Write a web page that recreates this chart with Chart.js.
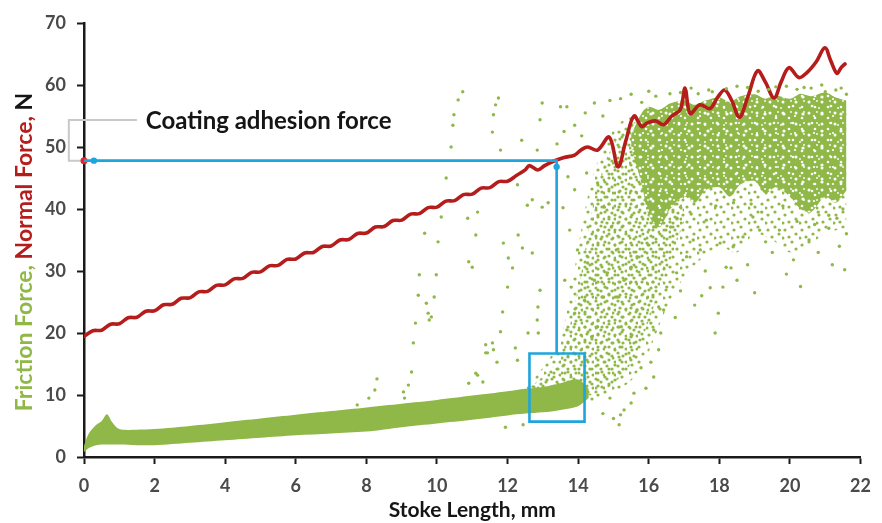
<!DOCTYPE html>
<html><head><meta charset="utf-8">
<script src="https://cdn.jsdelivr.net/npm/chart.js@4.4.1/dist/chart.umd.min.js"></script>
<style>html,body{margin:0;padding:0;background:#fff}</style>
</head><body>
<canvas id="c" width="882" height="523"></canvas>
<script>
// ---------- data ----------
const xTickStep = 2, yTickStep = 10;
const xMin = 0, xMax = 22, yMin = 0, yMax = 70;

// Normal force (red line)
const normalX = [0,0.25,0.5,0.75,1,1.25,1.5,1.75,2,2.25,2.5,2.75,3,3.25,3.5,3.75,4,4.25,4.5,4.75,5,5.25,5.5,5.75,6,6.25,6.5,6.75,7,7.25,7.5,7.75,8,8.25,8.5,8.75,9,9.25,9.5,9.75,10,10.25,10.5,10.75,11,11.25,11.5,11.75,12,12.25,
  12.5,12.62,12.85,13.05,13.3,13.6,13.9,14.1,14.27,14.55,14.88,15.13,15.35,15.58,15.8,15.96,16.2,16.42,16.65,16.89,17.03,17.17,17.45,17.73,17.95,18.15,18.35,18.57,18.8,19.08,19.3,19.55,19.75,19.97,20.25,20.48,20.75,20.99,21.15,21.33,21.45,21.56];
const normalY = [19.45,20.37,20.45,21.42,21.49,22.46,22.54,23.51,23.58,24.55,24.63,25.6,25.67,26.64,26.72,27.69,27.76,28.73,28.81,29.78,29.85,30.82,30.9,31.87,31.94,32.91,32.99,33.96,34.03,35.0,35.08,36.05,36.12,37.09,37.17,38.14,38.21,39.18,39.26,40.23,40.3,41.27,41.35,42.32,42.39,43.36,43.44,44.41,44.48,45.4,
  46.3,47.0,46.3,47.0,47.7,48.3,48.7,49.6,50.0,49.5,51.6,46.8,51.0,55.0,53.3,53.9,54.2,53.6,55.0,56.0,59.5,55.4,56.8,56.2,58.0,59.2,57.5,54.8,58.0,62.3,60.5,57.9,60.5,62.8,61.2,62.0,63.8,66.0,64.0,61.9,62.8,63.4];

// Friction force: dense low band (envelope of the point cloud)
const bandX    = [0,0.1,0.2,0.35,0.5,0.65,0.8,1.0,1.5,2,3,4,5,6,7,8,9,10,11,12,12.5,13,13.5,14,14.3];
const bandHigh = [1.8,3.4,4.3,5.2,5.8,6.9,5.6,4.5,4.4,4.5,5.0,5.6,6.2,6.8,7.4,8.0,8.6,9.2,9.9,10.6,11.0,11.3,11.9,12.5,11.0];
const bandLow  = [0.8,1.3,1.6,1.9,2.0,2.0,2.0,2.0,1.9,1.9,2.3,2.7,3.1,3.5,3.8,4.1,4.8,5.4,6.0,6.7,7.0,7.2,7.6,8.2,9.5];

// Friction force: sparse-to-medium spread region
const fanX    = [12.4,12.8,13.2,13.5,13.8,14.1,14.4,14.8,15.2,15.6,16.0,16.5,17.0,17.5,18.0,18.5,19.0,19.5,20.0,20.5,21.0,21.6];
const fanHigh = [10.5,13,16,19,27,37,45,51,54,55,55.5,56,56.5,57,57,57.5,57.5,57.5,57.5,57.5,58,57];
const fanLow  = [9,9.5,9.5,10,10,9.5,9,10,11,13,17,24,29,32,34,33,36,35,33,34,36,37];
// Friction force: denser core of the rising fan
const fan2X    = [12.4,12.8,13.2,13.5,13.8,14.1,14.4,14.8,15.2,15.6,16.0,16.5,17.0];
const fan2High = [10,12,14,16,22,30,40,48,52,54,55,56,56];
const fan2Low  = [9,9.5,9.5,10,10,10,10,11,13,16,22,30,38];

// Friction force: dense upper cloud
const cloudX    = [15.5,15.8,16.0,16.3,16.6,17.0,17.3,17.6,18.0,18.3,18.6,19.0,19.3,19.6,20.0,20.3,20.6,21.0,21.3,21.6];
const cloudHigh = [52,55.5,56.5,56,57,57.5,56.8,57.5,58,57.3,58.2,58.5,57.8,58.3,57.8,58.6,58.2,58.8,58,57.5];
const cloudLow  = [50,44,39,37,40,42,41,43,43.5,42,44,44.5,42.5,43.5,42,40,39.5,42,41,43];

// Friction force: scattered individual points
const scatterX = [10.73,10.6,11.74,11.66,10.48,11.6,10.45,11.57,10.4,11.8,12.98,12.92,12.4,12.84,13.5,10.26,12.28,12.56,12.7,12.98,13.15,10.12,10.87,11.15,9.65,10.03,11.1,11.88,12.3,12.42,12.02,12.7,9.5,9.98,10.9,11.0,12.14,12.0,12.92,9.47,9.92,9.7,11.86,12.86,9.39,9.84,11.8,12.84,12.87,9.33,11.38,11.6,9.28,11.1,11.38,
  8.3,8.24,8.07,7.74,9.08,9.05,9.19,9.75,9.78,10.9,11.15,11.3,11.43,11.57,11.7,12.22,12.28,11.94,12.44,12.58,
  17.97,17.88,15.16,15.2,16.28,16.06,15.78,16.14,15.92,15.58,15.5,15.3,16.42,16.28,16.14,
  21.55,18.19,18.1,18.33,18.39,18.02,17.74,18.67,19.31,20.54,21.1,20.8,21.33,19.7,19.14,18.95,17.63,17.26,17.46,17.07,16.79,16.51,16.34,16.06,15.67,15.22,15.5,13.8,13.62,13.9,13.68,14.38,14.55,14.18,14.46,14.27,13.98,13.76,13.57,13.9,13.71,14.24,14.55,14.74,14.94,15.08,14.83,14.69,15.1,15.3,15.5,15.67,15.95,16.14,16.34,16.62,16.9,
  13.68,14.46,14.9,14.2,13.9,13.6,14.1,13.4,14.7,15.2,15.5,16.0,15.8,
  17.2,18.5,19.6,20.6,21.3,16.6,17.8,19.1,20.2,21.0,
  14.7,14.9,15.0,
  17.5,18.8,19.5,20.1,20.8,21.4,21.2,19.9,18.5,17.3,16.9,19.0,20.3,16.75,17.6,
  16.2,16.9,17.4,18.2,18.8,19.4,19.9,20.4,20.9,21.45,21.6,17.7,
  16.8,17.2,17.9,18.4,18.9,19.2,19.8,20.2,20.7,21.1,21.5,21.6];
const scatterY = [58.9,57.6,57.9,56.8,55.2,55.2,53.5,52.4,50.0,49.5,57.1,54.4,51.1,49.5,56.5,45.0,43.9,40.6,41.5,40.3,41.0,38.7,38.5,39.5,36.1,34.7,35.8,34.5,35.8,33.7,32.1,32.9,29.4,29.4,31.5,30.6,30.5,27.4,26.9,26.1,25.8,24.8,23.4,24.2,21.6,22.6,20.2,22.1,20.0,18.4,18.1,17.3,13.7,13.5,16.8,
  12.6,10.8,9.5,8.4,9.5,10.5,11.6,23.2,22.1,11.9,13.2,12.1,16.8,18.4,15.3,17.6,15.6,4.8,5.2,20.0,
  23.2,20.0,5.2,6.8,17.3,15.3,14.4,12.9,11.1,10.3,8.7,7.6,23.7,24.2,20.5,
  30.2,30.6,27.4,30.5,33.9,34.5,27.3,35.5,34.7,35,36.9,39.5,38.5,36.6,36.6,38.7,38.2,35,33.4,32.3,29.7,27.4,20,21.6,23.7,21,19.4,27.4,28.5,23.2,20.5,19.4,21,25.3,28.5,31.3,33.4,36.6,40.2,43.1,45.2,45.8,44.2,40.3,37.1,33.4,29.7,25.8,25.8,28.5,30.6,32.3,34.5,37.1,39.8,37.1,40.3,
  56.5,57.1,57.5,55.5,53.5,52.5,51.8,50.5,55,57.8,58.5,59,57.2,
  59.5,59.8,59.7,59.5,59.2,58.6,58.9,59.0,59.3,58.9,
  7,9.5,6.2,
  26,31,33,31.8,33,34,31,29.5,28.5,24.5,26.8,26.5,27.5,22.5,30.0,
  58.2,58.8,58.6,59.4,59.6,59.3,59.8,59.6,60.0,59.5,58.5,59.2,
  38.5,39.2,40.5,41,40.8,39.5,40.5,38,37.5,39,40,36];

// Blue guide (coating adhesion level and region box)
const guideX = [0,13.39,13.39,14.18,14.18,12.62,12.62,13.39];
const guideY = [47.8,47.8,16.7,16.7,5.7,5.7,16.7,16.7];
const guideMarkX = [0.28,13.39], guideMarkY = [47.8,46.8];
const redMarkX = [0], redMarkY = [47.8];
// Grey bracket for the label
const bracketX = [1.5,-0.43,-0.43,0];
const bracketY = [54.35,54.35,47.8,47.8];
const labelText = 'Coating adhesion force';
const labelX = 1.75, labelY = 54.35;
const xTitle = 'Stoke Length, mm';
const yTitleParts = ['Friction Force, ', 'Normal Force, ', 'N'];

// ---------- styles ----------
const GREEN = '#8fb848', RED = '#b51c1c', BLUE = '#1ea5dc', GREY = '#c9c9c9', AX = '#1a1a1a';
const FONT = 'Lato, "Open Sans", sans-serif';

function tile(w, h, dots, color) {
  const c = document.createElement('canvas'); c.width = w; c.height = h;
  const g = c.getContext('2d');
  g.fillStyle = color;
  dots.forEach(d => { g.beginPath(); g.arc(d[0], d[1], d[2], 0, Math.PI * 2); g.fill(); });
  return g.createPattern(c, 'repeat');
}
const dotsA = tile(11, 13, [[2,2,1.6],[7,5,1.6],[4,9,1.6],[10,11,1.5]], GREEN);
const dotsB = tile(17, 15, [[3,5,1.6],[10,2,1.6],[14,9,1.6],[7,12,1.6],[1,13,1.5]], GREEN);
const specksA = tile(13, 11, [[3,3,1.5],[9,8,1.3],[11,2,0.9]], '#ffffff');
const specksB = tile(19, 17, [[5,12,1.6],[14,4,1.3],[16,14,1.1],[2,6,0.9]], '#ffffff');

const pts = (xs, ys) => xs.map((x, i) => ({ x, y: ys[i] }));
const edge = (xs, ys, fill, bg, order) => ({
  data: pts(xs, ys), borderWidth: 0, pointRadius: 0, tension: 0.3,
  fill: fill, backgroundColor: bg, order: order
});

const overlay = {
  id: 'overlay',
  afterDraw(chart) {
    const ctx = chart.ctx, xs = chart.scales.x, ys = chart.scales.y;
    ctx.save();
    ctx.font = 'bold 24px ' + FONT;
    ctx.fillStyle = '#151515';
    ctx.textBaseline = 'middle'; ctx.textAlign = 'left';
    ctx.fillText(labelText, xs.getPixelForValue(labelX), ys.getPixelForValue(labelY) + 1);
    const cols = [GREEN, RED, '#151515'];
    ctx.font = 'bold 23px ' + FONT;
    const widths = yTitleParts.map(t => ctx.measureText(t).width);
    const total = widths.reduce((a, b) => a + b, 0);
    ctx.translate(25, 252);
    ctx.rotate(-Math.PI / 2);
    let x = -total / 2;
    yTitleParts.forEach((t, i) => { ctx.fillStyle = cols[i]; ctx.fillText(t, x, 0); x += widths[i]; });
    ctx.restore();
  }
};

new Chart(document.getElementById('c'), {
  type: 'line',
  data: {
    datasets: [
      { data: pts(guideX, guideY), borderColor: BLUE, borderWidth: 2.6, pointRadius: 0, tension: 0, fill: false, order: 0 },
      { data: pts(guideMarkX, guideMarkY), showLine: false, pointRadius: 3.2, pointBackgroundColor: BLUE, pointBorderWidth: 0, order: 0 },
      { data: pts(redMarkX, redMarkY), showLine: false, pointRadius: 3.5, pointBackgroundColor: '#e0262b', pointBorderWidth: 0, order: 0, clip: false },
      { data: pts(bracketX, bracketY), borderColor: GREY, borderWidth: 2, pointRadius: 0, tension: 0, fill: false, clip: false, order: 1 },
      { data: pts(scatterX, scatterY), showLine: false, pointRadius: 1.7, pointBackgroundColor: GREEN, pointBorderWidth: 0, order: 2 },
      { data: pts(normalX, normalY), borderColor: RED, borderWidth: 3.6, pointRadius: 0, tension: 0.35, fill: false, borderJoinStyle: 'round', borderCapStyle: 'round', order: 3 },
      edge(cloudX, cloudHigh, '+1', specksB, 4),
      edge(cloudX, cloudLow, false, 'transparent', 4),
      edge(cloudX, cloudHigh, '+1', specksA, 5),
      edge(cloudX, cloudLow, false, 'transparent', 5),
      edge(cloudX, cloudHigh, '+1', GREEN, 6),
      edge(cloudX, cloudLow, false, 'transparent', 6),
      edge(fan2X, fan2High, '+1', dotsA, 7),
      edge(fan2X, fan2Low, false, 'transparent', 7),
      edge(fanX, fanHigh, '+1', dotsB, 8),
      edge(fanX, fanLow, false, 'transparent', 8),
      edge(bandX, bandHigh, '+1', GREEN, 9),
      edge(bandX, bandLow, false, 'transparent', 9)
    ]
  },
  options: {
    responsive: false, animation: false, devicePixelRatio: 1,
    layout: { padding: { top: 23, right: 13, left: 0, bottom: 0 } },
    plugins: { legend: { display: false }, tooltip: { enabled: false } },
    scales: {
      x: {
        type: 'linear', min: xMin, max: xMax,
        ticks: { stepSize: xTickStep, padding: 11, color: '#4a4a4a', font: { family: FONT, size: 18, weight: 'bold' } },
        grid: { drawOnChartArea: false, drawTicks: true, tickLength: 7, tickWidth: 2, tickColor: AX },
        border: { display: true, color: AX, width: 2.5 },
        title: { display: true, text: xTitle, color: '#151515', padding: { top: 0, bottom: 0 }, font: { family: FONT, size: 21, weight: 'bold', lineHeight: 1.2 } },
        afterFit(s) { s.height = 66; }
      },
      y: {
        type: 'linear', min: yMin, max: yMax,
        ticks: { stepSize: yTickStep, padding: 11, color: '#4a4a4a', font: { family: FONT, size: 18, weight: 'bold' } },
        grid: { drawOnChartArea: false, drawTicks: true, tickLength: 7, tickWidth: 2, tickColor: AX },
        border: { display: true, color: AX, width: 2.5 },
        afterFit(s) { s.width = 84; }
      }
    }
  },
  plugins: [overlay]
});
</script>
</body></html>
